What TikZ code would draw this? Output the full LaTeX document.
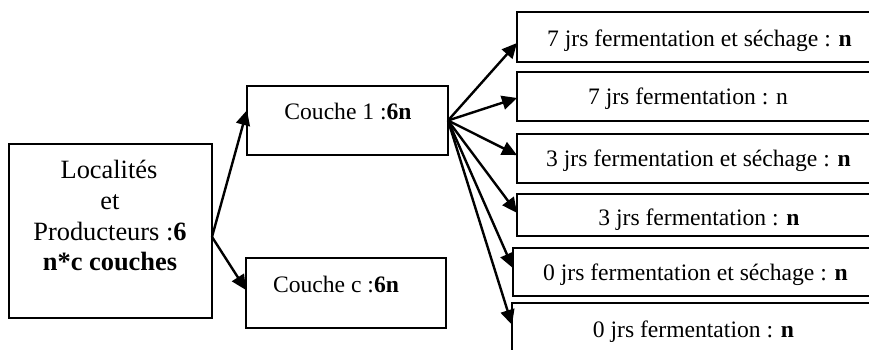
\documentclass[tikz,border=0pt]{standalone}
\usepackage{fontspec}
\setmainfont{Liberation Serif}
\usetikzlibrary{arrows.meta,calc}

\begin{document}
\begin{tikzpicture}[x=0.5pt,y=-0.5pt,
  box/.style={draw, line width=0.55pt, inner sep=0pt, outer sep=0pt},
  conn/.style={line width=1.2pt, -{Triangle[length=7.5pt,width=7pt]}},
  lbl/.style={anchor=base, inner sep=0pt, font=\fontsize{11.8}{14}\selectfont},
  biglbl/.style={lbl, font=\fontsize{13.2}{15.5}\selectfont}]
\useasboundingbox (0,0) rectangle (869,349);
\clip (0,0) rectangle (869,349);

% boxes
\node[box, minimum width=101.5pt, minimum height=87pt] (L) at (110.5,231) {};
\node[box, minimum width=100.5pt, minimum height=34.5pt] (C1) at (347.5,120.5) {};
\node[box, minimum width=100pt, minimum height=35pt] (Cc) at (346,293) {};
\node[box, minimum width=186.5pt, minimum height=25pt] (R1) at (703.5,37) {};
\node[box, minimum width=186.5pt, minimum height=24.5pt] (R2) at (703.5,96.5) {};
\node[box, minimum width=186.5pt, minimum height=24.5pt] (R3) at (703.5,158.5) {};
\node[box, minimum width=186.5pt, minimum height=21pt] (R4) at (703.5,215) {};
\node[box, minimum width=188.5pt, minimum height=24pt] (R5) at (701.5,272) {};
\node[box, minimum width=189pt, minimum height=26pt] (R6) at (701,329) {};

% labels
\node[biglbl] (t1) at (109,178) {Localités};
\node[biglbl] (t2) at (110,209) {et};
\node[biglbl] (t3) at (110,240) {Producteurs :\textbf{6}};
\node[biglbl] (t4) at (110,270) {\textbf{n*c couches}};
\node[lbl] (tc1) at (348,119) {Couche 1 :\textbf{6n}};
\node[lbl] (tcc) at (336,292) {Couche c :\textbf{6n}};
\node[lbl] (tr1) at (699.5,46) {7 jrs fermentation et séchage : \textbf{n}};
\node[lbl] (tr2) at (688,104) {7 jrs fermentation : n};
\node[lbl] (tr3) at (698.5,166) {3 jrs fermentation et séchage : \textbf{n}};
\node[lbl] (tr4) at (699,225) {3 jrs fermentation : \textbf{n}};
\node[lbl] (tr5) at (695.5,280) {0 jrs fermentation et séchage : \textbf{n}};
\node[lbl] (tr6) at (693.5,337) {0 jrs fermentation : \textbf{n}};

% connectors
\coordinate (o1) at ($(L.north east)!0.534!(L.south east)$);
\draw[conn] (o1) -- ($(C1.north west)!0.35!(C1.south west)$);
\draw[conn] (o1) -- ($(Cc.north west)!0.457!(Cc.south west)$);

\coordinate (o2) at (C1.east);
\draw[conn] (o2) -- ($(R1.north west)!0.62!(R1.south west)$);
\draw[conn] (o2) -- ($(R2.north west)!0.53!(R2.south west)$);
\draw[conn] (o2) -- ($(R3.north west)!0.43!(R3.south west)$);
\draw[conn] (o2) -- ($(R4.north west)!0.45!(R4.south west)$);
\draw[conn] (o2) -- ($(R5.north west)!0.42!(R5.south west)$);
\draw[conn] (o2) -- ($(R6.north west)!0.42!(R6.south west)$);
\end{tikzpicture}
\end{document}
